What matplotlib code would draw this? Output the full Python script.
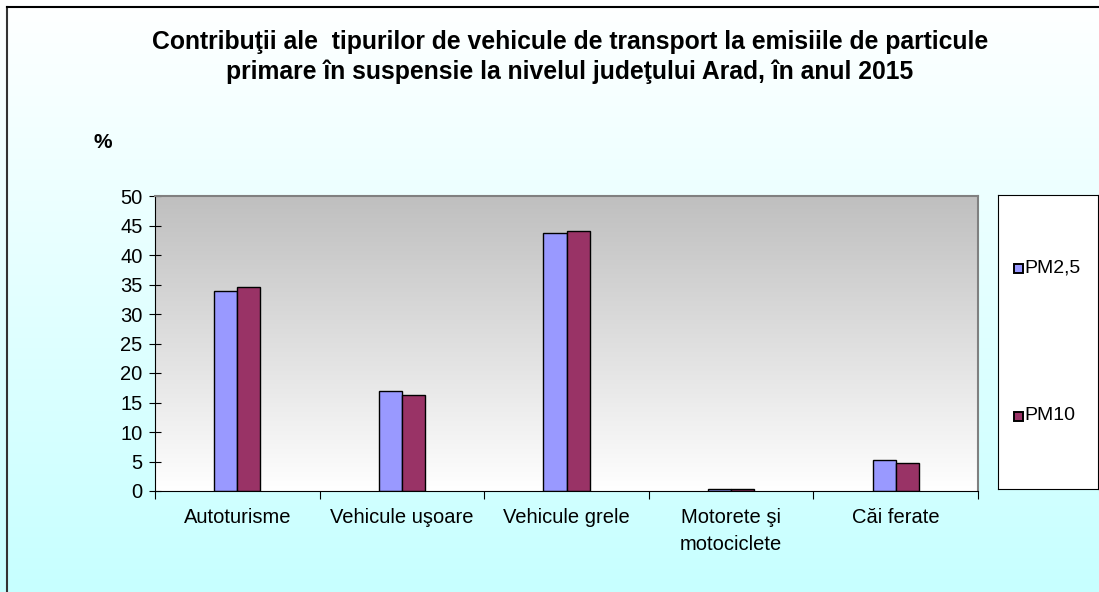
import matplotlib
import matplotlib.pyplot as plt
import numpy as np
from matplotlib.patches import Rectangle

matplotlib.use("Agg")
plt.rcParams["font.family"] = ["Liberation Sans", "DejaVu Sans"]

categories = ["Autoturisme", "Vehicule uşoare", "Vehicule grele",
              "Motorete şi\nmotociclete", "Căi ferate"]
pm25 = [33.9, 16.9, 43.7, 0.3, 5.25]
pm10 = [34.6, 16.3, 44.1, 0.3, 4.8]
series_names = ["PM2,5", "PM10"]
series_colors = ["#9999FF", "#993366"]
yticks = [0, 5, 10, 15, 20, 25, 30, 35, 40, 45, 50]

W, H = 1099, 592
fig = plt.figure(figsize=(W / 100, H / 100), dpi=100)

# figure background: white at top -> light cyan at bottom, frame at top/left
bg = fig.add_axes([0, 0, 1, 1], zorder=-10)
t = np.linspace(0, 1, 256).reshape(-1, 1)  # 0 = bottom, 1 = top
top_c = np.array([1.0, 1.0, 1.0])
bot_c = np.array([0.78, 1.0, 1.0])
img = bot_c + (top_c - bot_c) * t[..., None]
bg.imshow(img, aspect="auto", extent=[0, 1, 0, 1], origin="lower")
bg.plot([7 / W, 7 / W], [0, 1 - 7 / H], color="#333333", lw=1.5)
bg.plot([7 / W, 1], [1 - 7 / H, 1 - 7 / H], color="black", lw=1.5)
bg.set_xlim(0, 1)
bg.set_ylim(0, 1)
bg.axis("off")

# main plot
x0, x1, y0, y1 = 155, 978, 196, 491
ax = fig.add_axes([x0 / W, 1 - y1 / H, (x1 - x0) / W, (y1 - y0) / H])
n = len(categories)
ax.set_xlim(0, n)
ax.set_ylim(0, 50)
gtop = np.array([0.75, 0.75, 0.75])
gbot = np.array([1.0, 1.0, 1.0])
pimg = gbot + (gtop - gbot) * t[..., None]
ax.imshow(pimg, aspect="auto", extent=[0, n, 0, 50], origin="lower", zorder=0)

xs = np.arange(n) + 0.5
bw = 0.14
ax.bar(xs - bw / 2, pm25, bw, color=series_colors[0], edgecolor="black", linewidth=1, zorder=2)
ax.bar(xs + bw / 2, pm10, bw, color=series_colors[1], edgecolor="black", linewidth=1, zorder=2)

ax.set_yticks(yticks)
ax.set_yticklabels([str(v) for v in yticks], fontsize=14.5)
ax.set_xticks(np.arange(n + 1))
ax.set_xticklabels([])
ax.set_xticks(xs, minor=True)
ax.set_xticklabels(categories, minor=True, fontsize=14.5)
for lbl in ax.get_xticklabels(minor=True):
    lbl.set_linespacing(1.55)
ax.tick_params(axis="x", which="minor", length=0, pad=12)
ax.tick_params(axis="x", which="major", direction="out", length=6, color="black")
ax.tick_params(axis="y", direction="inout", length=8, pad=5)
for s in ["left", "bottom"]:
    ax.spines[s].set_color("black")
for s in ["top", "right"]:
    ax.spines[s].set_color("#808080")
    ax.spines[s].set_linewidth(1.5)

fig.text(103 / W, 1 - 142 / H, "%", fontsize=15, fontweight="bold", ha="center", va="center")
fig.text(570 / W, 1 - 57 / H,
         "Contribuţii ale  tipurilor de vehicule de transport la emisiile de particule\n"
         "primare în suspensie la nivelul judeţului Arad, în anul 2015",
         fontsize=17.8, fontweight="bold", ha="center", va="center", linespacing=1.25)

# legend box
lg = fig.add_axes([998 / W, 1 - 489 / H, 100 / W, 294 / H])
lg.set_xlim(0, 100)
lg.set_ylim(294, 0)
lg.set_facecolor("white")
lg.set_xticks([])
lg.set_yticks([])
for s in lg.spines.values():
    s.set_color("black")
for name, col, yy in zip(series_names, series_colors, [73, 221]):
    lg.add_patch(Rectangle((16, yy - 4.5), 9, 9, facecolor=col, edgecolor="black", lw=1.4))
    lg.text(26, yy, name, fontsize=14, va="center", ha="left")

fig.savefig("out.png", dpi=100)
